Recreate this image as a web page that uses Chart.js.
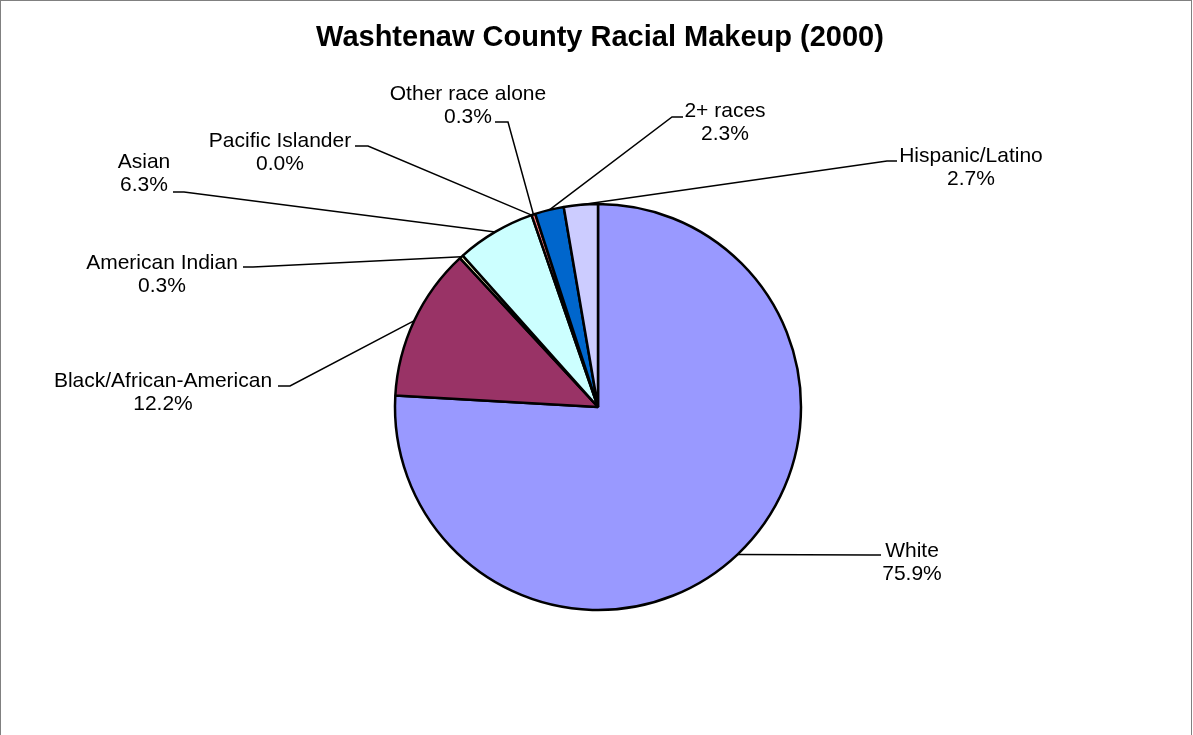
<!DOCTYPE html>
<html>
<head>
<meta charset="utf-8">
<script src="https://cdn.jsdelivr.net/npm/chart.js@4.4.1/dist/chart.umd.min.js"></script>
<style>
html,body{margin:0;padding:0;background:#fff;}
#wrap{width:1193px;height:735px;position:relative;}
</style>
</head>
<body>
<div id="wrap"><canvas id="c" width="1193" height="735"></canvas></div>
<script>
// ---- data ----
const categories = ["White","Black/African-American","American Indian","Asian","Pacific Islander","Other race alone","2+ races","Hispanic/Latino"];
const percents = [75.9, 12.2, 0.3, 6.3, 0.0, 0.3, 2.3, 2.7];
const sliceColors = ["#9999FF","#993366","#FFFFCC","#CCFFFF","#660066","#FF8080","#0066CC","#CCCCFF"];
const chartTitle = "Washtenaw County Racial Makeup (2000)";

// ---- label layout (text center x, first baseline y, leader attach x, horizontal end x, attach y) ----
const labelLayout = [
  {x:912, y:557, ax:881, hx:870, ay:555},
  {x:163, y:387, ax:278, hx:290, ay:386},
  {x:162, y:269, ax:243, hx:253, ay:267},
  {x:144, y:168, ax:173, hx:184, ay:192},
  {x:280, y:147, ax:355, hx:368, ay:146},
  {x:468, y:100, ax:495, hx:508, ay:122},
  {x:725, y:117, ax:683, hx:672, ay:117},
  {x:971, y:162, ax:897, hx:887, ay:161}
];
const lineGap = 23;

const decor = {
  id:'decor',
  beforeDraw(chart){
    const ctx = chart.ctx;
    ctx.save();
    ctx.fillStyle = '#fff';
    ctx.fillRect(0,0,chart.width,chart.height);
    ctx.strokeStyle = '#808080';
    ctx.lineWidth = 1;
    ctx.strokeRect(0.5,0.5,1191,800);
    ctx.restore();
  },
  afterDraw(chart){
    const ctx = chart.ctx;
    const meta = chart.getDatasetMeta(0);
    ctx.save();
    // title
    ctx.fillStyle = '#000';
    ctx.font = 'bold 29px "Liberation Sans", Arial, sans-serif';
    ctx.textAlign = 'center';
    ctx.textBaseline = 'alphabetic';
    ctx.fillText(chartTitle, 600, 46);
    // leaders and labels
    ctx.font = '21px "Liberation Sans", Arial, sans-serif';
    meta.data.forEach((arc, i) => {
      const p = arc.getProps(['x','y','startAngle','endAngle','outerRadius'], true);
      const mid = (p.startAngle + p.endAngle) / 2;
      const ex = p.x + p.outerRadius * Math.cos(mid);
      const ey = p.y + p.outerRadius * Math.sin(mid);
      const L = labelLayout[i];
      ctx.strokeStyle = '#000';
      ctx.lineWidth = 1.5;
      ctx.beginPath();
      ctx.moveTo(L.ax, L.ay);
      ctx.lineTo(L.hx, L.ay);
      ctx.lineTo(ex, ey);
      ctx.stroke();
      ctx.fillStyle = '#000';
      ctx.fillText(categories[i], L.x, L.y);
      ctx.fillText(percents[i].toFixed(1) + '%', L.x, L.y + lineGap);
    });
    ctx.restore();
  }
};

new Chart(document.getElementById('c'), {
  type: 'pie',
  data: {
    labels: categories,
    datasets: [{
      data: percents,
      backgroundColor: sliceColors,
      borderColor: '#000',
      borderWidth: 2.5
    }]
  },
  options: {
    responsive: false,
    animation: false,
    events: [],
    radius: 203,
    layout: { padding: { left: 3, right: 0, top: 79, bottom: 0 } },
    plugins: { legend: { display: false }, title: { display: false }, tooltip: { enabled: false } }
  },
  plugins: [decor]
});
</script>
</body>
</html>
